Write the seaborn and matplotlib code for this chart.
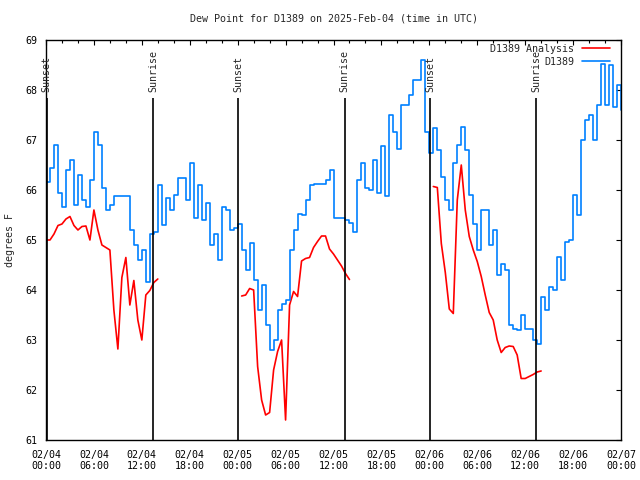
import numpy as np
import pandas as pd
import matplotlib
matplotlib.use("Agg")
import matplotlib.pyplot as plt
import matplotlib.dates as mdates
from matplotlib.lines import Line2D
import seaborn as sns

BLUE = "#0080FF"
RED = "#FF0000"
NA = np.nan

START = "2025-02-04 00:00"
STEP = "30min"

# D1389 observed dew point (deg F), every 30 min, 02/04 00:00 -> 02/07 00:00
obs_f = [
    66.15, 66.45, 66.9, 65.95, 65.65, 66.4, 66.6, 65.7, 66.3, 65.8, 65.65, 66.2,
    67.15, 66.9, 66.05, 65.6, 65.7, 65.87, 65.87, 65.88, 65.87, 65.2, 64.9, 64.6,
    64.8, 64.15, 65.12, 65.15, 66.1, 65.3, 65.85, 65.6, 65.9, 66.25, 66.25, 65.8,
    66.55, 65.45, 66.1, 65.4, 65.75, 64.9, 65.12, 64.6, 65.65, 65.6, 65.2, 65.25,
    65.33, 64.8, 64.4, 64.93, 64.2, 63.6, 64.1, 63.3, 62.8, 63.0, 63.6, 63.73,
    63.8, 64.8, 65.2, 65.53, 65.5, 65.8, 66.1, 66.13, 66.13, 66.13, 66.2, 66.41,
    65.43, 65.43, 65.43, 65.4, 65.35, 65.15, 66.2, 66.55, 66.05, 66.0, 66.6, 65.93,
    66.87, 65.87, 67.5, 67.17, 66.83, 67.7, 67.7, 67.9, 68.2, 68.2, 68.6, 67.15,
    66.75, 67.25, 66.8, 66.27, 65.8, 65.6, 66.55, 66.9, 67.27, 66.8, 65.9, 65.33,
    64.8, 65.6, 65.6, 64.9, 65.2, 64.3, 64.53, 64.4, 63.3, 63.23, 63.2, 63.5,
    63.23, 63.23, 63.0, 62.92, 63.87, 63.6, 64.07, 64.0, 64.67, 64.2, 64.97, 65.0,
    65.9, 65.5, 67.0, 67.4, 67.5, 67.0, 67.7, 68.53, 67.7, 68.5, 67.67, 68.1,
    67.6,
]

# D1389 analysis (deg F), same times; NaN where no analysis
ana_f = [
    65.0, 65.0, 65.12, 65.29, 65.32, 65.42, 65.47, 65.29, 65.2, 65.27, 65.28, 65.0,
    65.6, 65.2, 64.9, 64.85, 64.8, 63.6, 62.82, 64.25, 64.65, 63.7, 64.19, 63.4,
    63.0, 63.9, 63.99, 64.15, 64.22, NA, NA, NA, NA, NA, NA, NA,
    NA, NA, NA, NA, NA, NA, NA, NA, NA, NA, NA, NA,
    NA, 63.88, 63.9, 64.03, 64.0, 62.47, 61.8, 61.5, 61.55, 62.4, 62.77, 63.0,
    61.4, 63.7, 63.97, 63.87, 64.58, 64.63, 64.65, 64.85, 64.97, 65.08, 65.08, 64.82,
    64.72, 64.6, 64.48, 64.33, 64.21, NA, NA, NA, NA, NA, NA, NA,
    NA, NA, NA, NA, NA, NA, NA, NA, NA, NA, NA, NA,
    NA, 66.07, 66.05, 64.93, 64.35, 63.62, 63.53, 65.8, 66.5, 65.6, 65.07, 64.8,
    64.57, 64.27, 63.9, 63.55, 63.4, 63.0, 62.75, 62.85, 62.88, 62.87, 62.7, 62.23,
    62.23, 62.27, 62.31, 62.36, 62.38, NA, NA, NA, NA, NA, NA, NA,
    NA, NA, NA, NA, NA, NA, NA, NA, NA, NA, NA, NA,
    NA,
]

sun_times = ["2025-02-04 00:05", "2025-02-04 13:25", "2025-02-05 00:05",
             "2025-02-05 13:24", "2025-02-06 00:07", "2025-02-06 13:25"]
sun_labels = ["Sunset", "Sunrise", "Sunset", "Sunrise", "Sunset", "Sunrise"]

times = pd.date_range(START, periods=len(obs_f), freq=STEP)
df = pd.DataFrame({"time": times, "obs": obs_f, "ana": ana_f})
df["seg"] = df["ana"].isna().cumsum()
ana = df.dropna(subset=["ana"])

sns.set_theme(style="white")
plt.rcParams["font.family"] = ["DejaVu Sans Mono"]
FS = 7.2

fig = plt.figure(figsize=(6.4, 4.8), dpi=100)
ax = fig.add_axes([46 / 640, 40 / 480, 575 / 640, 400 / 480])

sns.lineplot(data=ana, x="time", y="ana", units="seg", estimator=None,
             color=RED, linewidth=1.2, ax=ax)
sns.lineplot(data=df, x="time", y="obs", estimator=None, color=BLUE,
             linewidth=1.2, drawstyle="steps-post", ax=ax)

sun = pd.to_datetime(sun_times)
ax.vlines(sun, 61, 67.84, color="black", linewidth=1.2, zorder=3)
for t, lab in zip(sun, sun_labels):
    ax.text(t, 67.96, lab, rotation=90, ha="center", va="bottom", fontsize=FS)

ax.set_xlim(pd.Timestamp("2025-02-04"), pd.Timestamp("2025-02-07"))
ax.set_ylim(61, 69)
ax.xaxis.set_major_locator(mdates.HourLocator(byhour=[0, 6, 12, 18]))
ax.xaxis.set_minor_locator(mdates.HourLocator(interval=2))
ax.xaxis.set_major_formatter(mdates.DateFormatter("%m/%d\n%H:%M"))
ax.set_yticks(range(61, 70))
ax.tick_params(which="both", direction="in", top=True, right=True,
               colors="black", labelsize=FS, width=0.8)
ax.tick_params(which="major", length=3.6)
ax.tick_params(which="minor", length=2)
ax.tick_params(axis="x", pad=7)
ax.tick_params(axis="y", pad=6.5)
for s in ax.spines.values():
    s.set_color("black")
    s.set_linewidth(1)

ax.set_xlabel("")
ax.set_ylabel("")
fig.text(10 / 640, 0.5, "degrees F", rotation=90, ha="center", va="center", fontsize=FS)
ax.set_title("Dew Point for D1389 on 2025-Feb-04 (time in UTC)", fontsize=FS, pad=13)

handles = [Line2D([], [], color=RED, linewidth=1.2),
           Line2D([], [], color=BLUE, linewidth=1.2)]
ax.legend(handles, ["D1389 Analysis", "D1389"], loc="upper right",
          bbox_to_anchor=(0.988, 1.0), borderaxespad=0, frameon=False,
          markerfirst=False, handlelength=2.8, handletextpad=0.8,
          labelspacing=0.3, fontsize=FS)

fig.savefig("out.png", dpi=100)
